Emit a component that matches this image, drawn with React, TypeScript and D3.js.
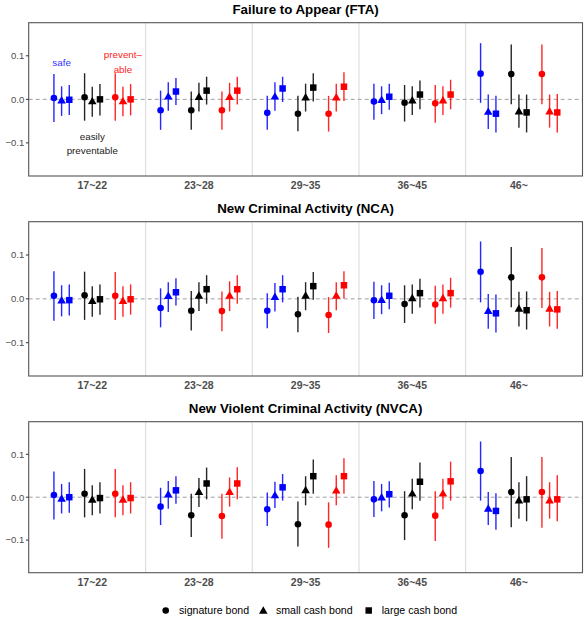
import React from "react";
import * as d3 from "d3";

const groups = ["17~22", "23~28", "29~35", "36~45", "46~"];
const riskClasses = ["safe", "easily preventable", "preventable"];
const bondTypes = ["signature bond", "small cash bond", "large cash bond"];
const panelTitles = [
  "Failure to Appear (FTA)",
  "New Criminal Activity (NCA)",
  "New Violent Criminal Activity (NVCA)",
];
const yTicks = [-0.1, 0, 0.1];

// series order: safe(circle,tri,sq), easily(circle,tri,sq), preventable(circle,tri,sq)
const ftaEst = [
  [0.003, -0.025, -0.031, -0.005, 0.059],
  [-0.002, 0.007, 0.007, -0.001, -0.028],
  [-0.001, 0.018, 0.025, 0.006, -0.033],
  [0.005, -0.025, -0.033, -0.008, 0.058],
  [-0.004, 0.006, 0.005, -0.002, -0.027],
  [0.0, 0.02, 0.027, 0.011, -0.03],
  [0.005, -0.025, -0.033, -0.009, 0.058],
  [-0.004, 0.006, 0.005, -0.002, -0.027],
  [0.0, 0.02, 0.029, 0.011, -0.03],
];
const ftaLo = [
  [-0.052, -0.07, -0.07, -0.047, -0.008],
  [-0.038, -0.026, -0.026, -0.034, -0.068],
  [-0.036, -0.013, -0.006, -0.024, -0.076],
  [-0.049, -0.07, -0.073, -0.051, -0.011],
  [-0.04, -0.028, -0.028, -0.036, -0.065],
  [-0.037, -0.012, -0.005, -0.023, -0.076],
  [-0.049, -0.07, -0.074, -0.054, -0.011],
  [-0.039, -0.028, -0.028, -0.036, -0.065],
  [-0.037, -0.012, -0.004, -0.023, -0.076],
];
const ftaHi = [
  [0.058, 0.02, 0.008, 0.036, 0.129],
  [0.03, 0.039, 0.039, 0.03, 0.011],
  [0.033, 0.049, 0.052, 0.036, 0.008],
  [0.06, 0.018, 0.008, 0.033, 0.126],
  [0.029, 0.038, 0.036, 0.03, 0.011],
  [0.035, 0.052, 0.06, 0.043, 0.011],
  [0.06, 0.018, 0.008, 0.033, 0.126],
  [0.029, 0.038, 0.036, 0.03, 0.011],
  [0.035, 0.052, 0.062, 0.045, 0.012],
];

const ncaEst = [
  [0.007, -0.021, -0.027, -0.003, 0.062],
  [-0.003, 0.007, 0.005, -0.002, -0.027],
  [-0.003, 0.015, 0.022, 0.007, -0.033],
  [0.008, -0.027, -0.035, -0.012, 0.049],
  [-0.004, 0.008, 0.008, 0.002, -0.022],
  [-0.001, 0.022, 0.029, 0.013, -0.026],
  [0.007, -0.028, -0.037, -0.013, 0.049],
  [-0.004, 0.008, 0.008, 0.002, -0.022],
  [-0.001, 0.022, 0.031, 0.013, -0.024],
];
const ncaLo = [
  [-0.05, -0.065, -0.067, -0.046, -0.008],
  [-0.04, -0.03, -0.029, -0.035, -0.068],
  [-0.038, -0.015, -0.008, -0.024, -0.077],
  [-0.048, -0.072, -0.076, -0.055, -0.019],
  [-0.041, -0.028, -0.026, -0.034, -0.063],
  [-0.036, -0.011, -0.002, -0.02, -0.07],
  [-0.048, -0.074, -0.078, -0.057, -0.021],
  [-0.041, -0.028, -0.026, -0.034, -0.063],
  [-0.036, -0.011, 0.001, -0.02, -0.068],
];
const ncaHi = [
  [0.063, 0.024, 0.013, 0.039, 0.131],
  [0.031, 0.038, 0.036, 0.031, 0.011],
  [0.033, 0.047, 0.054, 0.037, 0.01],
  [0.062, 0.018, 0.005, 0.031, 0.118],
  [0.029, 0.038, 0.038, 0.033, 0.016],
  [0.033, 0.054, 0.061, 0.046, 0.017],
  [0.061, 0.017, 0.004, 0.03, 0.116],
  [0.029, 0.04, 0.038, 0.033, 0.016],
  [0.033, 0.054, 0.063, 0.048, 0.018],
];

const nvcaEst = [
  [0.005, -0.022, -0.028, -0.005, 0.061],
  [-0.003, 0.007, 0.005, 0.0, -0.026],
  [0.0, 0.016, 0.023, 0.007, -0.032],
  [0.008, -0.042, -0.063, -0.042, 0.012],
  [-0.005, 0.013, 0.017, 0.009, -0.007],
  [-0.002, 0.032, 0.049, 0.036, -0.005],
  [0.008, -0.044, -0.064, -0.043, 0.012],
  [-0.005, 0.013, 0.016, 0.009, -0.007],
  [-0.002, 0.032, 0.049, 0.037, -0.005],
];
const nvcaLo = [
  [-0.052, -0.065, -0.067, -0.046, -0.008],
  [-0.038, -0.027, -0.025, -0.033, -0.065],
  [-0.036, -0.015, -0.008, -0.024, -0.076],
  [-0.047, -0.093, -0.115, -0.1, -0.07],
  [-0.042, -0.023, -0.019, -0.028, -0.05],
  [-0.038, -0.005, 0.008, -0.008, -0.056],
  [-0.047, -0.097, -0.118, -0.102, -0.071],
  [-0.042, -0.022, -0.019, -0.028, -0.05],
  [-0.038, -0.005, 0.008, -0.008, -0.056],
];
const nvcaHi = [
  [0.06, 0.022, 0.011, 0.038, 0.13],
  [0.031, 0.038, 0.036, 0.031, 0.012],
  [0.035, 0.049, 0.054, 0.037, 0.009],
  [0.066, 0.008, -0.01, 0.014, 0.094],
  [0.028, 0.045, 0.049, 0.043, 0.035],
  [0.035, 0.069, 0.088, 0.081, 0.049],
  [0.066, 0.008, -0.012, 0.014, 0.094],
  [0.028, 0.046, 0.051, 0.043, 0.035],
  [0.035, 0.07, 0.091, 0.083, 0.051],
];

const panelData = [
  { est: ftaEst, lo: ftaLo, hi: ftaHi },
  { est: ncaEst, lo: ncaLo, hi: ncaHi },
  { est: nvcaEst, lo: nvcaLo, hi: nvcaHi },
];

const COLORS = ["#0000FF", "#000000", "#FF0000"];
const FONT = "'Liberation Sans', Arial, Helvetica, sans-serif";
const TEXT_GREY = "#4D4D4D";

const panelBoxes = [
  { top: 22.7, bottom: 176 },
  { top: 221.7, bottom: 376 },
  { top: 421.7, bottom: 572.7 },
];
const plotLeft = 28.7;
const plotRight = 582.5;

const x = d3.scaleLinear().domain([-0.596, 4.596]).range([plotLeft, plotRight]);
const colorOffset = [-0.2875, 0, 0.2875];
const shapeOffset = [-0.072, 0, 0.072];

const symCircle = d3.symbol(d3.symbolCircle, 34)();
const symTri = d3.symbol(d3.symbolTriangle, 32)();
const symSq = d3.symbol(d3.symbolSquare, 42)();
const shapes = [symCircle, symTri, symSq];

function Panel({ idx }: { idx: number }) {
  const box = panelBoxes[idx];
  const data = panelData[idx];
  const y = d3.scaleLinear().domain([-0.176, 0.176]).range([box.bottom, box.top]);
  const marks: React.ReactNode[] = [];
  data.est.forEach((row, s) => {
    const c = Math.floor(s / 3);
    const sh = s % 3;
    row.forEach((v, g) => {
      const px = x(g + colorOffset[c] + shapeOffset[sh]);
      marks.push(
        <line
          key={`l${s}-${g}`}
          x1={px}
          x2={px}
          y1={y(data.lo[s][g])}
          y2={y(data.hi[s][g])}
          stroke={COLORS[c]}
          strokeWidth={1.4}
          strokeOpacity={0.85}
        />
      );
      marks.push(
        <path
          key={`p${s}-${g}`}
          d={shapes[sh]}
          transform={`translate(${px},${y(v) + (sh === 1 ? 0.8 : 0)})`}
          fill={COLORS[c]}
        />
      );
    });
  });
  return (
    <g>
      <text
        x={(plotLeft + plotRight) / 2}
        y={box.top - 8.5}
        textAnchor="middle"
        fontFamily={FONT}
        fontWeight="bold"
        fontSize={13.3}
        fill="#000"
      >
        {panelTitles[idx]}
      </text>
      <rect x={plotLeft} y={box.top} width={plotRight - plotLeft} height={box.bottom - box.top} fill="#fff" />
      {[0.5, 1.5, 2.5, 3.5].map((b) => (
        <line key={b} x1={x(b)} x2={x(b)} y1={box.top} y2={box.bottom} stroke="#DEDEDE" strokeWidth={1.2} />
      ))}
      <line x1={plotLeft} x2={plotRight} y1={y(0)} y2={y(0)} stroke="#A0A0A0" strokeWidth={1} strokeDasharray="4,3" />
      {marks}
      <rect
        x={plotLeft}
        y={box.top}
        width={plotRight - plotLeft}
        height={box.bottom - box.top}
        fill="none"
        stroke="#555"
        strokeWidth={1.1}
      />
      {yTicks.map((t) => (
        <g key={t}>
          <line x1={plotLeft - 2.8} x2={plotLeft} y1={y(t)} y2={y(t)} stroke="#333" strokeWidth={1} />
          <text
            x={plotLeft - 4.5}
            y={y(t) + 3.4}
            textAnchor="end"
            fontFamily={FONT}
            fontSize={9.5}
            fill={TEXT_GREY}
          >
            {t === 0 ? "0.0" : t < 0 ? "\u22120.1" : "0.1"}
          </text>
        </g>
      ))}
      {groups.map((gname, g) => (
        <text
          key={gname}
          x={x(g)}
          y={box.bottom + 12.8}
          textAnchor="middle"
          fontFamily={FONT}
          fontWeight="bold"
          fontSize={10.5}
          fill={TEXT_GREY}
        >
          {gname}
        </text>
      ))}
      {idx === 0 && (
        <g fontFamily={FONT} fontSize={9.8} textAnchor="middle">
          <text x={x(colorOffset[0] + shapeOffset[1])} y={66} fill="#3333FF">
            {riskClasses[0]}
          </text>
          <text x={x(0)} y={139.5} fill="#222">
            easily
          </text>
          <text x={x(0)} y={154} fill="#222">
            preventable
          </text>
          <text x={x(colorOffset[2] + shapeOffset[1])} y={57.5} fill="#FF2222">
            prevent–
          </text>
          <text x={x(colorOffset[2] + shapeOffset[1])} y={73} fill="#FF2222">
            able
          </text>
        </g>
      )}
    </g>
  );
}

function Legend() {
  const items = [
    { sym: symCircle, sx: 165.7, tx: 179 },
    { sym: symTri, sx: 263.3, tx: 276 },
    { sym: symSq, sx: 368.7, tx: 381.7 },
  ];
  const ly = 610.5;
  return (
    <g>
      {items.map((it, i) => (
        <g key={i}>
          <path d={it.sym} transform={`translate(${it.sx},${ly + (i === 1 ? 0.8 : 0)})`} fill="#000" />
          <text x={it.tx} y={ly + 3.8} fontFamily={FONT} fontSize={10.6} fill="#000">
            {bondTypes[i]}
          </text>
        </g>
      ))}
    </g>
  );
}

export default function App() {
  return (
    <svg
      width={584}
      height={618}
      style={{ position: "absolute", left: 0, top: 0, display: "block", background: "#fff" }}
    >
      <rect width={584} height={618} fill="#fff" />
      {[0, 1, 2].map((i) => (
        <Panel key={i} idx={i} />
      ))}
      <Legend />
    </svg>
  );
}
